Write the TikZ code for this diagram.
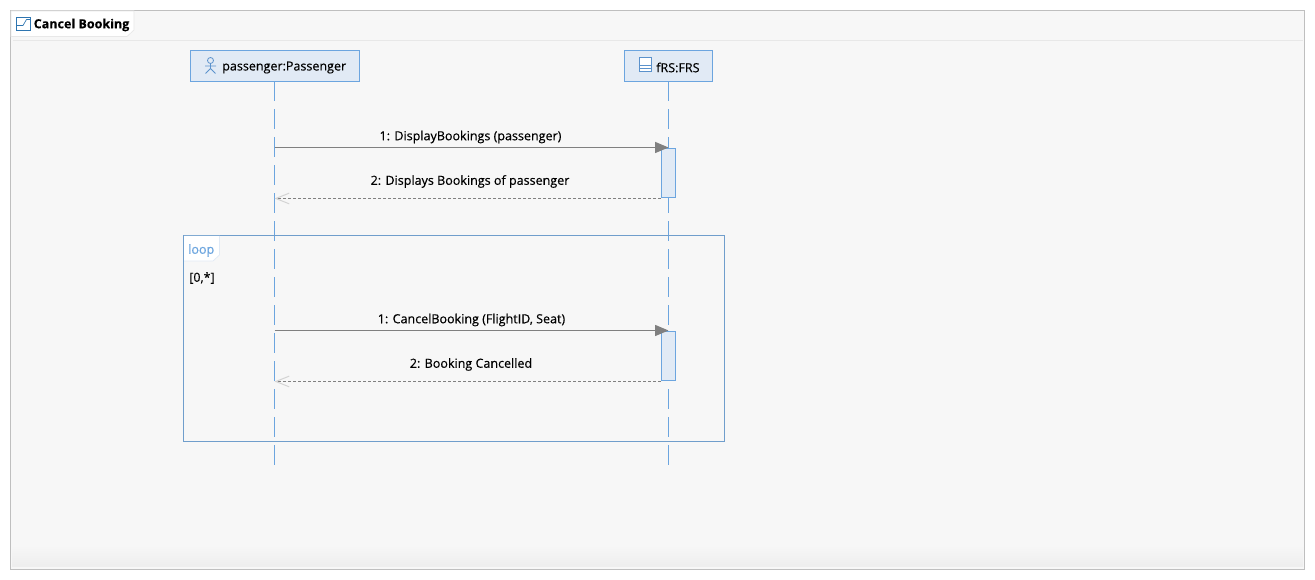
\documentclass[tikz,border=0pt]{standalone}
\usepackage{fontspec}
\setmainfont{Open Sans}[FakeBold=0.35]
\newfontfamily\titlefont{Open Sans}[FakeBold=0.1]
\usetikzlibrary{arrows.meta}
\definecolor{blueline}{HTML}{6CA5DF}
\definecolor{boxfill}{HTML}{E1EAF5}
\definecolor{canvas}{HTML}{F7F7F7}
\definecolor{frameline}{HTML}{BFBFBF}
\definecolor{tabline}{HTML}{E8E8E8}
\definecolor{msgline}{HTML}{808080}
\definecolor{looptext}{HTML}{6CA5DF}
\definecolor{iconblue}{HTML}{2E75B0}
\definecolor{iconmid}{HTML}{5B92CC}
\definecolor{barb}{HTML}{D4D4D4}
\tikzset{
  x=0.75pt,y=-0.75pt,
  headbox/.style={draw=blueline,fill=boxfill,line width=0.75pt,minimum height=23.25pt,inner sep=0pt,anchor=center},
  lifeline/.style={draw=blueline,line width=0.75pt,dash pattern=on 15pt off 6pt},
  activation/.style={draw=blueline,fill=boxfill,line width=0.75pt,minimum width=10.5pt,minimum height=36.75pt,inner sep=0pt,anchor=north},
  callmsg/.style={draw=msgline,line width=0.75pt,-{Triangle[length=10pt,width=8.25pt,fill=msgline]}},
  retmsg/.style={draw=msgline,line width=0.6pt,dash pattern=on 2.25pt off 1.5pt,yshift=0.7pt,-{Straight Barb[length=10pt,width=8pt,color=barb,line width=0.75pt,sharp]}},
  msglabel/.style={text=black,inner sep=0pt,anchor=center},
  every node/.style={font=\fontsize{9.4pt}{11pt}\selectfont}
}
\begin{document}
\begin{tikzpicture}
\useasboundingbox (0,0) rectangle (1315,580);
\fill[white] (0,0) rectangle (1315,580);
% outer frame
\fill[canvas] (10.5,10.5) rectangle (1304.5,569.5);
\shade[top color=canvas,bottom color=black!7] (12,545) rectangle (1303,567);
\draw[frameline,line width=0.75pt] (10.5,10.5) rectangle (1304.5,569.5);
\draw[tabline,line width=0.5pt] (13,40.5) -- (1303,40.5);
% tab
\fill[white,draw=tabline,line width=0.5pt] (11,11) -- (134,11) -- (134,30) -- (127,36.5) -- (11,36.5) -- cycle;
\node[inner sep=0pt,anchor=west,font=\fontsize{9.4pt}{11pt}\titlefont\bfseries] (title) at (33.5,25) {Cancel Booking};
\draw[draw=iconblue,line width=0.75pt,fill=white] (16.5,17.5) rectangle (30.5,30.5);
\draw[draw=iconblue,line width=0.5pt] (16.5,25.5) -- (23,25.5) -- (26.5,19.5) -- (30.5,19.5);
% lifelines
\node[headbox,minimum width=126.75pt] (p) at (275,66) {};
\node[headbox,minimum width=66pt] (f) at (668.5,66) {};
\coordinate (pe) at (274.5,466);
\coordinate (fe) at (668.5,466);
\draw[lifeline] (274.5,81.5) -- (pe);
\draw[lifeline] (668.5,81.5) -- (fe);
% header text
\node[msglabel,anchor=west] (pt) at (222,67.5) {passenger:Passenger};
\node[msglabel,anchor=west] (ft) at (656,67.5) {fRS:FRS};
% actor icon
\draw[iconmid,line width=0.6pt] (210.5,60.5) circle[radius=3]
  (210.5,63.5) -- (210.5,68.5) (205,66) -- (216,66) (210.5,68.5) -- (205.5,73.5) (210.5,68.5) -- (215.5,73.5);
% class icon
\draw[iconmid,line width=0.6pt,fill=white] (639.5,57.5) rectangle (651.5,71.5);
\draw[iconmid,line width=0.6pt] (639.5,65) -- (651.5,65) (639.5,68) -- (651.5,68);
% loop frame
\draw[blueline!80!gray,line width=0.75pt] (183.5,235.5) rectangle (724.5,441.5);
\fill[white] (184,236) -- (219.5,236) -- (219.5,255) -- (213,261) -- (184,261) -- cycle;
\draw[boxfill,line width=0.5pt] (219.5,236) -- (219.5,255) -- (213,261) -- (184,261);
\node[msglabel,anchor=west,text=looptext] (lp) at (188,250.5) {loop};
\node[msglabel,anchor=west] (g) at (189,278) {[0,*]};
% activations
\node[activation] (a1) at (668.5,148.5) {};
\node[activation] (a2) at (668.5,331.5) {};
% messages
\coordinate (m1s) at (274.5,147.5);
\coordinate (m1e) at (668.5,147.5);
\coordinate (m3s) at (274.5,330.5);
\coordinate (m3e) at (668.5,330.5);
\draw[callmsg] (m1s) -- (m1e);
\draw[retmsg] (a1.south west) -- (a1.south west -| pe);
\draw[callmsg] (m3s) -- (m3e);
\draw[retmsg] (a2.south west) -- (a2.south west -| pe);
\node[msglabel] (l1) at (470.5,137) {1: DisplayBookings (passenger)};
\node[msglabel] (l2) at (470,181.5) {2: Displays Bookings of passenger};
\node[msglabel] (l3) at (471.5,320) {1: CancelBooking (FlightID, Seat)};
\node[msglabel] (l4) at (471,364.5) {2: Booking Cancelled};
\end{tikzpicture}
\end{document}
